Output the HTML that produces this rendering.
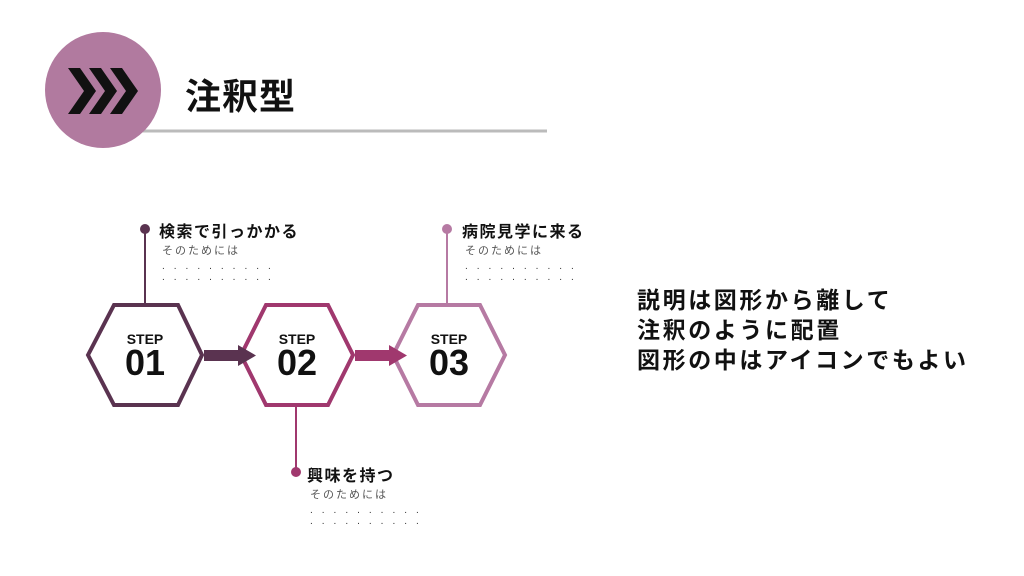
<!DOCTYPE html>
<html><head><meta charset="utf-8"><style>
body{margin:0;width:1024px;height:576px;background:#fff;overflow:hidden;font-family:"Liberation Sans","Noto Sans CJK JP",sans-serif;position:relative}
.a{position:absolute;white-space:nowrap}
.t{font-weight:bold;font-size:16px;color:#111;letter-spacing:1.5px}
.s{font-size:11px;color:#555;letter-spacing:2px}
.d{font-size:10px;color:#333;letter-spacing:9px;line-height:11px}
</style></head><body>
<svg class="a" style="left:0;top:0" width="1024" height="576">
<line x1="140" y1="131" x2="547" y2="131" stroke="#bbb" stroke-width="3"/>
<circle cx="103" cy="90" r="58" fill="#b17a9f"/>
<g fill="#111">
<polygon points="68,68 80,68 96,91 80,114 68,114 84,91"/>
<polygon points="89,68 101,68 117,91 101,114 89,114 105,91"/>
<polygon points="110,68 122,68 138,91 122,114 110,114 126,91"/>
</g>
<g stroke-width="4" fill="#fff">
<polygon points="88,355 114,305 178,305 202,355 178,405 114,405" stroke="#5a3350"/>
<polygon points="241,355 266,305 328,305 353,355 328,405 266,405" stroke="#a0386e"/>
<polygon points="393,355 418,305 480,305 505,355 480,405 418,405" stroke="#b67aa3"/>
</g>
<rect x="204" y="350" width="36" height="11" fill="#5a3350"/>
<polygon points="238,345 256,355.5 238,366" fill="#5a3350"/>
<rect x="355" y="350" width="36" height="11" fill="#a0386e"/>
<polygon points="389,345 407,355.5 389,366" fill="#a0386e"/>
<line x1="145" y1="229" x2="145" y2="303" stroke="#5a3350" stroke-width="2"/>
<circle cx="145" cy="229" r="5" fill="#5a3350"/>
<line x1="296" y1="407" x2="296" y2="472" stroke="#a0386e" stroke-width="2"/>
<circle cx="296" cy="472" r="5" fill="#a0386e"/>
<line x1="447" y1="229" x2="447" y2="303" stroke="#b67aa3" stroke-width="2"/>
<circle cx="447" cy="229" r="5" fill="#b67aa3"/>
<g font-family="Liberation Sans, sans-serif" font-weight="bold" text-anchor="middle" fill="#111">
<text x="145" y="344" font-size="14">STEP</text><text x="145" y="375" font-size="36">01</text>
<text x="297" y="344" font-size="14">STEP</text><text x="297" y="375" font-size="36">02</text>
<text x="449" y="344" font-size="14">STEP</text><text x="449" y="375" font-size="36">03</text>
</g>
</svg>
<div class="a" style="left:185px;top:68px;font-size:36px;font-weight:bold;color:#111;letter-spacing:1px">注釈型</div>
<div class="a t" style="left:159px;top:218px">検索で引っかかる</div>
<div class="a s" style="left:162px;top:242px">そのためには</div>
<div class="a d" style="left:162px;top:261px">..........<br>..........</div>
<div class="a t" style="left:462px;top:218px">病院見学に来る</div>
<div class="a s" style="left:465px;top:242px">そのためには</div>
<div class="a d" style="left:465px;top:261px">..........<br>..........</div>
<div class="a t" style="left:307px;top:462px">興味を持つ</div>
<div class="a s" style="left:310px;top:486px">そのためには</div>
<div class="a d" style="left:310px;top:505px">..........<br>..........</div>
<div class="a" style="left:637px;top:285px;font-size:23px;letter-spacing:2.6px;font-weight:bold;line-height:30px;color:#111">説明は図形から離して<br>注釈のように配置<br>図形の中はアイコンでもよい</div>
</body></html>
